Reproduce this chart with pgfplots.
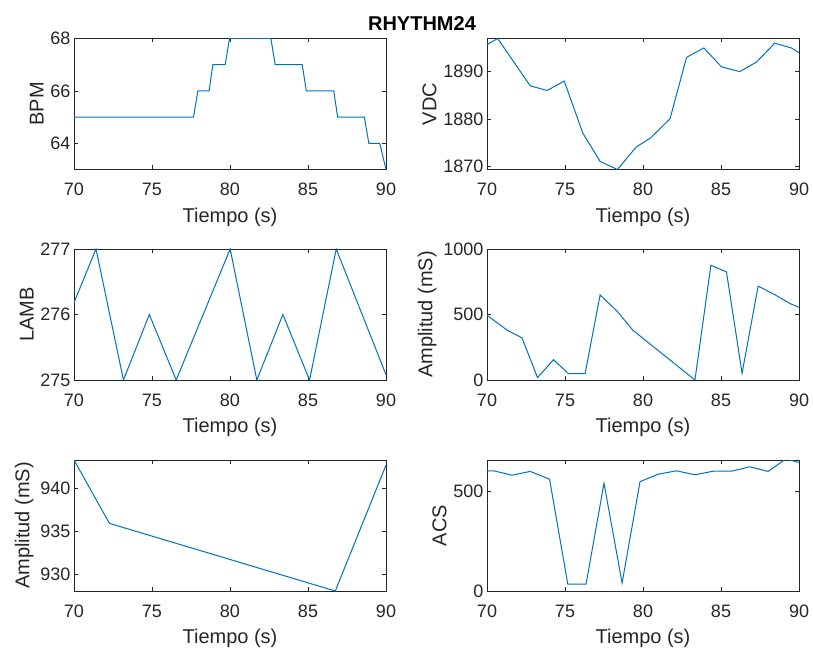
\documentclass[border=0pt]{standalone}
\usepackage{fontspec}
\setmainfont{Liberation Sans}
\usepackage{pgfplots}
\pgfplotsset{compat=1.18}
\definecolor{mblue}{RGB}{0,114,189}
\definecolor{mgray}{RGB}{38,38,38}
\pgfplotsset{
  mat/.style={
    scale only axis, width=312pt, height=131pt,
    anchor=south west,
    xmin=70, xmax=90, xtick={70,75,80,85,90},
    axis line style={mgray, line width=0.6pt},
    tick style={mgray, line width=0.6pt},
    major tick length=4pt, tick align=inside,
    ticklabel style={font=\fontsize{18}{18}\selectfont, text=mgray},
    xticklabel style={inner sep=0pt, anchor=north, yshift=-13.5pt},
    label style={font=\fontsize{20}{20}\selectfont, text=mgray},
    xlabel style={at={(axis description cs:0.5,0)}, anchor=north, inner sep=0pt, yshift=-38pt},
    xlabel={Tiempo (s)},
    /pgf/number format/assume math mode=true,
    /pgf/number format/1000 sep={},
  },
  line/.style={mblue, line width=1pt, mark=none},
}

\begin{document}
\begin{tikzpicture}
\path[use as bounding box] (0,0) rectangle (813pt,648pt);

% fila 1
\begin{axis}[mat, at={(74pt,478.5pt)}, ymin=63, ymax=68, ytick={64,66,68}, ylabel={BPM}]
\addplot[line] coordinates {
  (70,65) (77.66,65) (77.94,66) (78.66,66) (78.90,67) (79.69,67) (79.97,68)
  (82.62,68) (82.90,67) (84.63,67) (84.89,66) (86.65,66) (86.90,65)
  (88.61,65) (88.90,64) (89.60,64) (90,63)
};
\end{axis}

\begin{axis}[mat, at={(487pt,478.5pt)}, ymin=1869.3, ymax=1897, ytick={1870,1880,1890}, ylabel={VDC}]
\addplot[line] coordinates {
  (70,1895.7) (70.68,1897) (72.77,1887) (73.85,1886) (74.95,1888) (76.14,1877)
  (77.25,1871) (78.36,1869.3) (79.55,1874) (80.49,1876) (81.73,1880)
  (82.79,1893) (83.90,1895) (85.03,1891) (86.20,1890) (87.27,1892)
  (88.44,1896) (89.51,1895) (90,1894)
};
\end{axis}

% fila 2
\begin{axis}[mat, at={(74pt,268pt)}, ymin=275, ymax=277, ytick={275,276,277}, ylabel={LAMB}]
\addplot[line] coordinates {
  (70,276.18) (71.41,277) (73.17,275) (74.83,276) (76.55,275) (80.01,277)
  (81.72,275) (83.39,276) (85.10,275) (86.81,277) (90,275.08)
};
\end{axis}

\begin{axis}[mat, at={(487pt,268pt)}, ymin=0, ymax=1000, ytick={0,500,1000}, ylabel={Amplitud (mS)}]
\addplot[line] coordinates {
  (70,495) (71.28,381) (72.24,322) (73.24,18) (74.26,155) (75.22,49)
  (76.29,49) (77.25,649) (78.36,523) (79.34,381) (80.45,275) (83.33,0)
  (84.35,876) (85.35,825) (86.35,52) (87.38,716) (88.44,652) (89.40,585)
  (90,554)
};
\end{axis}

% fila 3
\begin{axis}[mat, at={(74pt,57pt)}, ymin=928, ymax=943.3, ytick={930,935,940}, ylabel={Amplitud (mS)}]
\addplot[line] coordinates {
  (70,943.3) (72.27,935.9) (86.75,928.0) (90,942.7)
};
\end{axis}

\begin{axis}[mat, at={(487pt,57pt)}, ymin=0, ymax=655, ytick={0,500}, ylabel={ACS}]
\addplot[line] coordinates {
  (70,601) (70.43,601) (71.60,579) (72.77,598) (74.01,559) (75.18,34)
  (76.35,34) (77.50,539) (78.66,40) (79.81,547) (80.98,584) (82.15,601)
  (83.33,581) (84.50,599) (85.67,599) (86.84,621) (88.02,598) (89.15,660)
  (90,643)
};
\end{axis}

\node[font=\fontsize{20}{20}\selectfont\bfseries] at (422pt,624.5pt) {RHYTHM24};
\end{tikzpicture}
\end{document}
